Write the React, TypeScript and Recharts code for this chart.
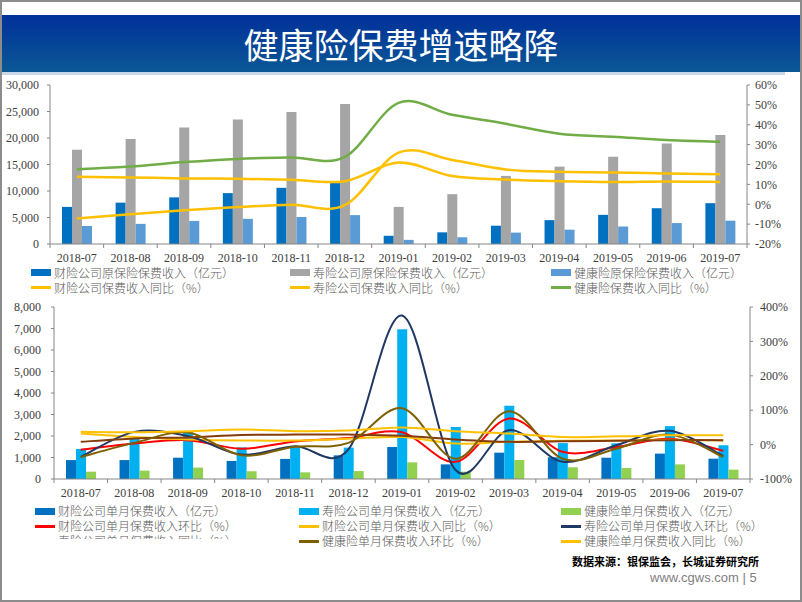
import { Bar, ComposedChart, Line, XAxis, YAxis } from 'recharts';

const months = [
  '2018-07', '2018-08', '2018-09', '2018-10', '2018-11', '2018-12', '2019-01',
  '2019-02', '2019-03', '2019-04', '2019-05', '2019-06', '2019-07',
];

// 上图：原保险保费收入（亿元，累计）
const propPremium = [7000, 7800, 8800, 9600, 10600, 11500, 1550, 2200, 3450, 4500, 5500, 6750, 7700];
const lifePremium = [17800, 19800, 22000, 23500, 24900, 26400, 7000, 9400, 12850, 14600, 16450, 18950, 20550];
const healthPremium = [3400, 3800, 4350, 4750, 5100, 5450, 780, 1270, 2150, 2700, 3300, 3950, 4400];
// 上图：同比（%）
const propYoY = [13.8, 13.5, 13.0, 12.8, 12.3, 11.6, 21, 14.2, 12.4, 11.6, 11.2, 11.5, 11.2];
const lifeYoY = [-7.2, -5, -3, -1.4, -0.2, -0.5, 26, 22.3, 17.5, 16.3, 16, 15.5, 15.1];
const healthYoY = [17.6, 19, 21.2, 22.8, 23.5, 23.8, 51, 45, 40.5, 35.5, 34, 32.3, 31.4];

// 下图：单月保费收入（亿元）
const propMonthly = [880, 880, 990, 840, 935, 1100, 1490, 680, 1225, 1010, 990, 1180, 945];
const lifeMonthly = [1400, 1890, 2170, 1470, 1470, 1460, 6970, 2420, 3410, 1670, 1660, 2460, 1570];
const healthMonthly = [340, 390, 530, 360, 310, 370, 775, 340, 885, 545, 510, 680, 435];
// 下图：环比 / 同比（%）
const propMoM = [-15, 3, 13, -12, 9, 19, 36, -50, 76, -21, -7, 17, -18];
const propMonthYoY = [32, 22, 15, 12, 12, 17, 22, 3, 8, 11, 12, 14, 12];
const lifeMoM = [-36, 37, 25, -29, -5, -14, 375, -74, 42, -50, -2, 40, -33];
const lifeMonthYoY = [8, 18, 21, 28, 29, 29, 26, 15, 8, 10, 11, 13, 13];
const healthMoM = [-36, 5, 35, -31, -6, 5, 106, -41, 97, -41, -12, 29, -36];
const healthMonthYoY = [37, 36, 39, 44, 39, 41, 50, 39, 32, 22, 24, 27, 27];

const topLeftTicks = [0, 5000, 10000, 15000, 20000, 25000, 30000];
const topRightTicks = [-20, -10, 0, 10, 20, 30, 40, 50, 60];
const bottomLeftTicks = [0, 1000, 2000, 3000, 4000, 5000, 6000, 7000, 8000];
const bottomRightTicks = [-100, 0, 100, 200, 300, 400];

const topData = months.map((m, i) => ({
  month: m,
  propPremium: propPremium[i],
  lifePremium: lifePremium[i],
  healthPremium: healthPremium[i],
  propYoY: propYoY[i],
  lifeYoY: lifeYoY[i],
  healthYoY: healthYoY[i],
}));

const bottomData = months.map((m, i) => ({
  month: m,
  propMonthly: propMonthly[i],
  lifeMonthly: lifeMonthly[i],
  healthMonthly: healthMonthly[i],
  propMoM: propMoM[i],
  propMonthYoY: propMonthYoY[i],
  lifeMoM: lifeMoM[i],
  lifeMonthYoY: lifeMonthYoY[i],
  healthMoM: healthMoM[i],
  healthMonthYoY: healthMonthYoY[i],
}));

// Excel 风格的平滑线（Catmull-Rom）
const excelSmooth = (context: any) => {
  let pts: number[][] = [];
  return {
    areaStart() {},
    areaEnd() {},
    lineStart() {
      pts = [];
    },
    point(x: number, y: number) {
      pts.push([+x, +y]);
    },
    lineEnd() {
      if (!pts.length) return;
      context.moveTo(pts[0][0], pts[0][1]);
      for (let i = 0; i < pts.length - 1; i++) {
        const p0 = pts[i > 0 ? i - 1 : i];
        const p1 = pts[i];
        const p2 = pts[i + 1];
        const p3 = pts[i + 2 < pts.length ? i + 2 : i + 1];
        context.bezierCurveTo(
          p1[0] + (p2[0] - p0[0]) / 6,
          p1[1] + (p2[1] - p0[1]) / 6,
          p2[0] - (p3[0] - p1[0]) / 6,
          p2[1] - (p3[1] - p1[1]) / 6,
          p2[0],
          p2[1],
        );
      }
    },
  };
};

const AXIS = '#868686';
const SERIF = 'Liberation Serif, Times New Roman, serif';
const CJK = '"Noto Sans CJK SC", sans-serif';

const makeXTick = (bandWidth: number) => (props: any) => {
  const { x, y, payload, index } = props;
  return (
    <g>
      <line x1={x - bandWidth / 2} x2={x - bandWidth / 2} y1={y - 9} y2={y - 5} stroke={AXIS} />
      {index === months.length - 1 && (
        <line x1={x + bandWidth / 2} x2={x + bandWidth / 2} y1={y - 9} y2={y - 5} stroke={AXIS} />
      )}
      <text x={x} y={y} dy="0.71em" textAnchor="middle" fill="#404040" fontSize={12} style={{ fontFamily: SERIF }}>
        {payload.value}
      </text>
    </g>
  );
};

const makeYTick = (anchor: 'start' | 'end', fmt: (v: number) => string) => (props: any) => {
  const { x, y, payload } = props;
  return (
    <text x={x} y={y} dy="0.355em" textAnchor={anchor} fill="#404040" fontSize={12} style={{ fontFamily: SERIF }}>
      {fmt(payload.value)}
    </text>
  );
};

type LegendEntry = { label: string; color: string; kind: 'bar' | 'line' };

const LegendItem = ({ item, x, y }: { item: LegendEntry; x: number; y: number }) => (
  <div
    style={{
      position: 'absolute',
      left: x,
      top: y - 6,
      height: 12,
      lineHeight: '12px',
      display: 'flex',
      alignItems: 'center',
      whiteSpace: 'nowrap',
      fontFamily: CJK,
      fontWeight: 300,
      fontSize: 12,
      color: '#595959',
    }}
  >
    <span
      style={{
        display: 'inline-block',
        width: 20,
        height: item.kind === 'bar' ? 7 : 3,
        background: item.color,
        marginRight: 3,
      }}
    />
    {item.label}
  </div>
);

const topLegend: LegendEntry[] = [
  { label: '财险公司原保险保费收入（亿元）', color: '#0070C0', kind: 'bar' },
  { label: '寿险公司原保险保费收入（亿元）', color: '#A5A5A5', kind: 'bar' },
  { label: '健康险原保险保费收入（亿元）', color: '#5B9BD5', kind: 'bar' },
  { label: '财险公司保费收入同比（%）', color: '#FFC000', kind: 'line' },
  { label: '寿险公司保费收入同比（%）', color: '#FFC000', kind: 'line' },
  { label: '健康险保费收入同比（%）', color: '#70AD47', kind: 'line' },
];

const bottomLegend: LegendEntry[] = [
  { label: '财险公司单月保费收入（亿元）', color: '#0070C0', kind: 'bar' },
  { label: '寿险公司单月保费收入（亿元）', color: '#00B0F0', kind: 'bar' },
  { label: '健康险单月保费收入（亿元）', color: '#92D050', kind: 'bar' },
  { label: '财险公司单月保费收入环比（%）', color: '#FF0000', kind: 'line' },
  { label: '财险公司单月保费收入同比（%）', color: '#FFC000', kind: 'line' },
  { label: '寿险公司单月保费收入环比（%）', color: '#203864', kind: 'line' },
  { label: '寿险公司单月保费收入同比（%）', color: '#843C0C', kind: 'line' },
  { label: '健康险单月保费收入环比（%）', color: '#7F6000', kind: 'line' },
  { label: '健康险单月保费收入同比（%）', color: '#FFC000', kind: 'line' },
];

const topCols = [31, 290, 551];
const topRows = [272.5, 287.5];
const botCols = [35, 299, 561];
const botRows = [511, 526, 541];

export default function App() {
  const pct = (v: number) => `${v}%`;
  const num = (v: number) => v.toLocaleString('en-US');

  return (
    <div
      style={{
        position: 'absolute',
        left: 0,
        top: 0,
        width: 802,
        height: 602,
        background: '#fff',
        overflow: 'hidden',
        fontFamily: SERIF,
      }}
    >
      {/* 标题栏 */}
      <div
        style={{
          position: 'absolute',
          left: 0,
          top: 15,
          width: 802,
          height: 57,
          background: 'linear-gradient(#00309b, #0b5894)',
          color: '#fff',
          fontFamily: CJK,
          fontWeight: 400,
          fontSize: 35,
          lineHeight: '57px',
          textAlign: 'center',
        }}
      >
        健康险保费增速略降
      </div>
      <div style={{ position: 'absolute', left: 0, top: 72, width: 785, height: 3, background: '#c9d7ea' }} />

      {/* 上图 */}
      <div style={{ position: 'absolute', left: 0, top: 75 }}>
        <ComposedChart
          width={802}
          height={191}
          data={topData}
          margin={{ top: 10, right: 0, bottom: 0, left: 0 }}
          barGap={0}
          barSize={10}
        >
          <XAxis
            dataKey="month"
            xAxisId="x"
            height={22}
            interval={0}
            stroke={AXIS}
            tickLine={false}
            tickSize={4}
            tickMargin={5}
            tick={makeXTick(697 / months.length)}
          />
          <YAxis
            yAxisId="left"
            width={50}
            domain={[0, 30000]}
            ticks={topLeftTicks}
            interval={0}
            stroke={AXIS}
            tickSize={3}
            tickMargin={8}
            tick={makeYTick('end', num)}
          />
          <YAxis
            yAxisId="right"
            orientation="right"
            width={55}
            domain={[-20, 60]}
            ticks={topRightTicks}
            interval={0}
            stroke={AXIS}
            tickSize={3}
            tickMargin={5}
            tick={makeYTick('start', pct)}
          />
          <Bar xAxisId="x" yAxisId="left" dataKey="propPremium" fill="#0070C0" isAnimationActive={false} />
          <Bar xAxisId="x" yAxisId="left" dataKey="lifePremium" fill="#A5A5A5" isAnimationActive={false} />
          <Bar xAxisId="x" yAxisId="left" dataKey="healthPremium" fill="#5B9BD5" isAnimationActive={false} />
          <Line xAxisId="x" yAxisId="right" dataKey="propYoY" type={excelSmooth as any} stroke="#FFC000" strokeWidth={2.5} dot={false} isAnimationActive={false} />
          <Line xAxisId="x" yAxisId="right" dataKey="lifeYoY" type={excelSmooth as any} stroke="#FFC000" strokeWidth={2.5} dot={false} isAnimationActive={false} />
          <Line xAxisId="x" yAxisId="right" dataKey="healthYoY" type={excelSmooth as any} stroke="#70AD47" strokeWidth={2.5} dot={false} isAnimationActive={false} />
        </ComposedChart>
      </div>

      {topLegend.map((item, i) => (
        <LegendItem key={item.label} item={item} x={topCols[i % 3]} y={topRows[Math.floor(i / 3)]} />
      ))}

      {/* 下图 */}
      <div style={{ position: 'absolute', left: 0, top: 297 }}>
        <ComposedChart
          width={802}
          height={204}
          data={bottomData}
          margin={{ top: 10, right: 0, bottom: 0, left: 0 }}
          barGap={0}
          barSize={10}
        >
          <XAxis
            dataKey="month"
            xAxisId="x"
            height={22}
            interval={0}
            stroke={AXIS}
            tickLine={false}
            tickSize={4}
            tickMargin={5}
            tick={makeXTick(696 / months.length)}
          />
          <YAxis
            yAxisId="left"
            width={54}
            domain={[0, 8000]}
            ticks={bottomLeftTicks}
            interval={0}
            stroke={AXIS}
            tickSize={3}
            tickMargin={10}
            tick={makeYTick('end', num)}
          />
          <YAxis
            yAxisId="right"
            orientation="right"
            width={52}
            domain={[-100, 400]}
            ticks={bottomRightTicks}
            interval={0}
            stroke={AXIS}
            tickSize={3}
            tickMargin={7}
            tick={makeYTick('start', pct)}
          />
          <Bar xAxisId="x" yAxisId="left" dataKey="propMonthly" fill="#0070C0" isAnimationActive={false} />
          <Bar xAxisId="x" yAxisId="left" dataKey="lifeMonthly" fill="#00B0F0" isAnimationActive={false} />
          <Bar xAxisId="x" yAxisId="left" dataKey="healthMonthly" fill="#92D050" isAnimationActive={false} />
          <Line xAxisId="x" yAxisId="right" dataKey="propMoM" type={excelSmooth as any} stroke="#FF0000" strokeWidth={2} dot={false} isAnimationActive={false} />
          <Line xAxisId="x" yAxisId="right" dataKey="propMonthYoY" type={excelSmooth as any} stroke="#FFC000" strokeWidth={2} dot={false} isAnimationActive={false} />
          <Line xAxisId="x" yAxisId="right" dataKey="lifeMoM" type={excelSmooth as any} stroke="#203864" strokeWidth={2} dot={false} isAnimationActive={false} />
          <Line xAxisId="x" yAxisId="right" dataKey="lifeMonthYoY" type={excelSmooth as any} stroke="#843C0C" strokeWidth={2} dot={false} isAnimationActive={false} />
          <Line xAxisId="x" yAxisId="right" dataKey="healthMoM" type={excelSmooth as any} stroke="#7F6000" strokeWidth={2} dot={false} isAnimationActive={false} />
          <Line xAxisId="x" yAxisId="right" dataKey="healthMonthYoY" type={excelSmooth as any} stroke="#FFC000" strokeWidth={2} dot={false} isAnimationActive={false} />
        </ComposedChart>
      </div>

      {bottomLegend.map((item, i) => {
        const x = botCols[i % 3];
        const y = botRows[Math.floor(i / 3)];
        if (i === 6) {
          // 原图中该图例被遮挡，只露出上半部分
          return (
            <div key={item.label} style={{ position: 'absolute', left: 0, top: 0, width: 290, height: 539, overflow: 'hidden' }}>
              <LegendItem item={item} x={x} y={y} />
            </div>
          );
        }
        return <LegendItem key={item.label} item={item} x={x} y={y} />;
      })}

      <div
        style={{
          position: 'absolute',
          left: 572,
          top: 554,
          height: 14,
          lineHeight: '14px',
          fontFamily: CJK,
          fontWeight: 700,
          fontSize: 11,
          color: '#000',
          whiteSpace: 'nowrap',
        }}
      >
        数据来源：银保监会，长城证券研究所
      </div>
      <div
        style={{
          position: 'absolute',
          left: 650,
          top: 570,
          height: 15,
          lineHeight: '15px',
          fontFamily: '"Liberation Sans", sans-serif',
          fontSize: 13,
          color: '#7f7f7f',
          whiteSpace: 'nowrap',
        }}
      >
        www.cgws.com | 5
      </div>

      {/* 外框 */}
      <div
        style={{
          position: 'absolute',
          left: 0,
          top: 0,
          width: 798,
          height: 598,
          border: '2px solid #8c8c8c',
          pointerEvents: 'none',
        }}
      />
    </div>
  );
}
